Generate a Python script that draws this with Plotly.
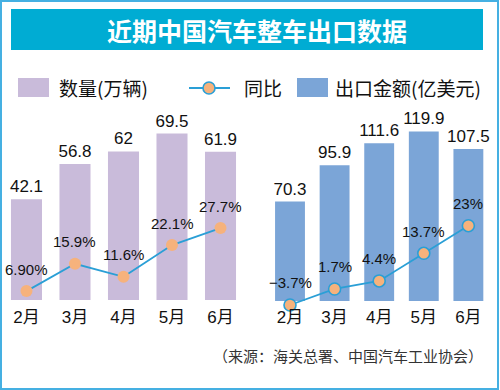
import plotly.graph_objects as go

months = ["2月", "3月", "4月", "5月", "6月"]
volume = [42.1, 56.8, 62, 69.5, 61.9]            # 数量(万辆)
volume_yoy = [6.9, 15.9, 11.6, 22.1, 27.7]       # 同比 %
volume_yoy_labels = ["6.90%", "15.9%", "11.6%", "22.1%", "27.7%"]
value = [70.3, 95.9, 111.6, 119.9, 107.5]        # 出口金额(亿美元)
value_yoy = [-3.7, 1.7, 4.4, 13.7, 23]           # 同比 %
value_yoy_labels = ["−3.7%", "1.7%", "4.4%", "13.7%", "23%"]

W, H = 500, 390
PURPLE = "#c9bbda"
BLUE = "#7ba5d7"
ORANGE = "#f6b27c"
LINEC = "#2a9fd6"
BANNER = "#00acd3"
BORDER = "#45b0e2"
NUM_FONT = "Liberation Sans, Arial, Noto Sans CJK SC"
CJK_FONT = "Noto Sans CJK SC, Liberation Sans"

def px(x):
    return x / W

def py(y):
    return 1 - y / H

fig = go.Figure()

# left panel
fig.add_trace(go.Bar(x=months, y=volume, marker=dict(color=PURPLE, line=dict(width=0)),
                     width=0.64, texttemplate="%{y}", textposition="outside",
                     constraintext="none",
                     textfont=dict(size=17, color="#111", family=NUM_FONT),
                     cliponaxis=False, xaxis="x", yaxis="y", showlegend=False))
fig.add_trace(go.Scatter(x=months, y=volume_yoy, mode="lines+markers",
                         line=dict(color=LINEC, width=1.8),
                         marker=dict(size=12, color=ORANGE, line=dict(width=0)),
                         cliponaxis=False, xaxis="x", yaxis="y2", showlegend=False))
# right panel
fig.add_trace(go.Bar(x=months, y=value, marker=dict(color=BLUE, line=dict(width=0)),
                     width=0.67, texttemplate="%{y}", textposition="outside",
                     constraintext="none",
                     textfont=dict(size=17, color="#111", family=NUM_FONT),
                     cliponaxis=False, xaxis="x2", yaxis="y3", showlegend=False))
fig.add_trace(go.Scatter(x=months, y=value_yoy, mode="lines+markers",
                         line=dict(color=LINEC, width=1.8),
                         marker=dict(size=12, color=ORANGE, line=dict(width=1.6, color=LINEC)),
                         cliponaxis=False, xaxis="x2", yaxis="y4", showlegend=False))

# plot area spans pixel rows 100..330; bars' zero sits at ~300
ydom = [py(330), py(100)]
axis_common = dict(showgrid=False, zeroline=False, showline=False, ticks="",
                   fixedrange=True)

annotations = []
for m, v, t in zip(months, volume_yoy, volume_yoy_labels):
    annotations.append(dict(x=m, y=v, xref="x", yref="y2", text=t, showarrow=False,
                            yshift=22, font=dict(size=15, color="#111", family=NUM_FONT)))
for m, v, t in zip(months, value_yoy, value_yoy_labels):
    annotations.append(dict(x=m, y=v, xref="x2", yref="y4", text=t, showarrow=False,
                            yshift=22, font=dict(size=15, color="#111", family=NUM_FONT)))

# title
annotations.append(dict(x=px(257), y=py(30), xref="paper", yref="paper",
                        text="<b>近期中国汽车整车出口数据</b>", showarrow=False,
                        xanchor="center", yanchor="middle",
                        font=dict(size=25, color="white", family=CJK_FONT)))
# legend texts
for x0, t in [(57, "数量(万辆)"), (242, "同比"), (333, "出口金额(亿美元)")]:
    annotations.append(dict(x=px(x0), y=py(88), xref="paper", yref="paper", text=t,
                            showarrow=False, xanchor="left", yanchor="middle",
                            font=dict(size=19, color="#111", family=CJK_FONT)))
# source
annotations.append(dict(x=px(485), y=py(355), xref="paper", yref="paper",
                        text="（来源：海关总署、中国汽车工业协会）", showarrow=False,
                        xanchor="right", yanchor="middle",
                        font=dict(size=15, color="#333", family=CJK_FONT)))

shapes = [
    dict(type="rect", xref="paper", yref="paper", x0=px(1), x1=px(498), y0=py(1), y1=py(389),
         line=dict(color=BORDER, width=2), fillcolor="rgba(0,0,0,0)", layer="above"),
    dict(type="rect", xref="paper", yref="paper", x0=px(11), x1=px(483), y0=py(9), y1=py(50),
         line=dict(width=0), fillcolor=BANNER, layer="below"),
    dict(type="rect", xref="paper", yref="paper", x0=px(18), x1=px(49), y0=py(78), y1=py(97),
         line=dict(width=0), fillcolor=PURPLE),
    dict(type="line", xref="paper", yref="paper", x0=px(189), x1=px(230), y0=py(88), y1=py(88),
         line=dict(color=LINEC, width=2)),
    dict(type="circle", xref="paper", yref="paper", x0=px(203), x1=px(215), y0=py(82), y1=py(94),
         line=dict(color=LINEC, width=1.6), fillcolor=ORANGE),
    dict(type="rect", xref="paper", yref="paper", x0=px(297), x1=px(328), y0=py(78), y1=py(97),
         line=dict(width=0), fillcolor=BLUE),
]

xtick = dict(tickfont=dict(size=17, color="#111", family=NUM_FONT),
             anchor="free", position=py(305), type="category")

fig.update_layout(
    width=W, height=H, margin=dict(l=0, r=0, t=0, b=0),
    paper_bgcolor="white", plot_bgcolor="rgba(0,0,0,0)",
    xaxis=dict(domain=[0, 0.5], range=[-0.546, 4.608], **xtick, **axis_common),
    xaxis2=dict(domain=[0.5, 1.0], range=[-0.897, 4.709], **xtick, **axis_common),
    yaxis=dict(domain=ydom, range=[-12.53, 83.5], showticklabels=False, anchor="x", **axis_common),
    yaxis2=dict(domain=ydom, range=[-5.94, 69.97], showticklabels=False, anchor="x",
                overlaying="y", **axis_common),
    yaxis3=dict(domain=ydom, range=[-20.5, 142.1], showticklabels=False, anchor="x2", **axis_common),
    yaxis4=dict(domain=ydom, range=[-12.12, 65.32], showticklabels=False, anchor="x2",
                overlaying="y3", **axis_common),
    annotations=annotations, shapes=shapes, showlegend=False,
)

fig.write_html("out.html", config={"displayModeBar": False, "staticPlot": True},
               post_script="document.body.style.margin='0';document.body.style.overflow='hidden';")
